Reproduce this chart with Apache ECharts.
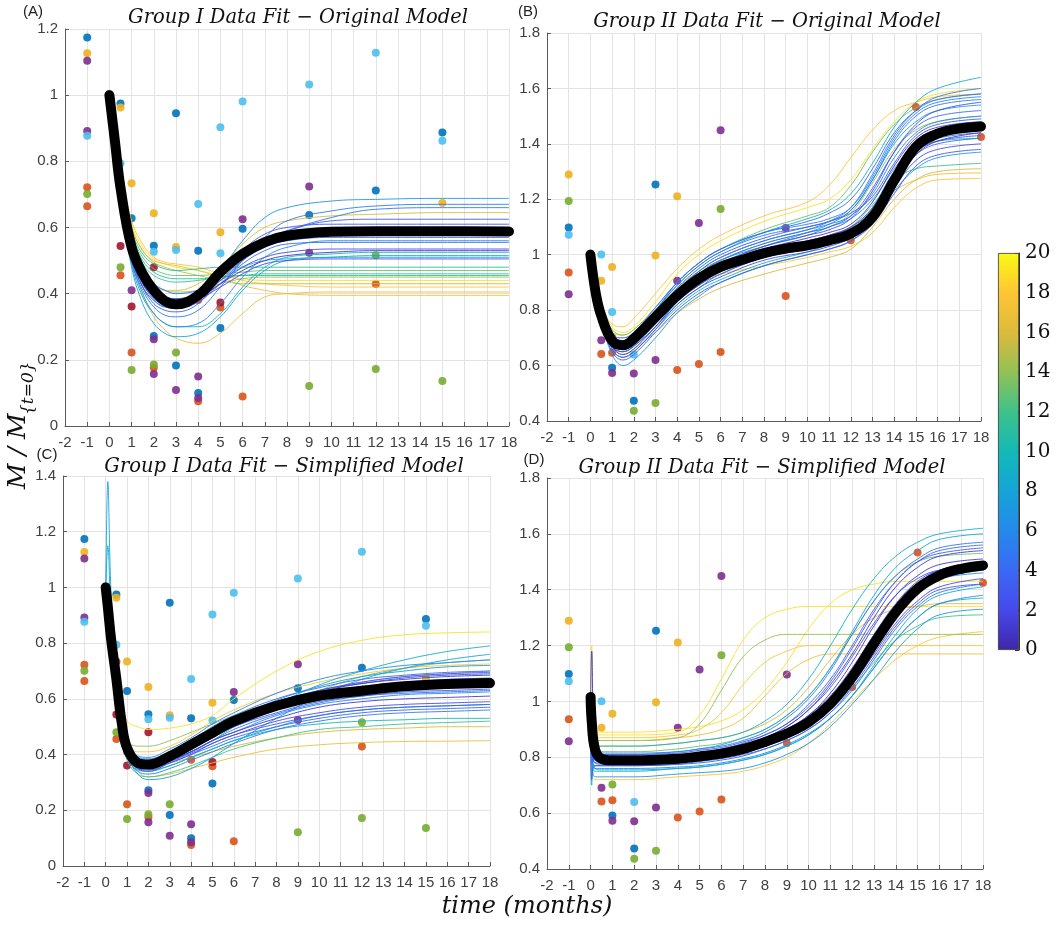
<!DOCTYPE html>
<html><head><meta charset="utf-8">
<script src="https://cdn.jsdelivr.net/npm/echarts@6/dist/echarts.min.js"></script>
<style>html,body{margin:0;padding:0;background:#fff}#c{width:1059px;height:926px}</style>
</head><body><div id="c"></div>
<script>
// ---------------- data ----------------
const PANEL_TITLES = ['Group I Data Fit \u2212 Original Model','Group II Data Fit \u2212 Original Model',
  'Group I Data Fit \u2212 Simplified Model','Group II Data Fit \u2212 Simplified Model'];
const PANEL_TAGS = ['(A)','(B)','(C)','(D)'];
const COLORBAR_MAX = 20;

// observed data, Group I (t in months, M/M0)
const G1_BLUE = [[-1,1.174],[0.5,0.975],[1,0.628],[2,0.545],[2,0.272],[3,0.945],[3,0.183],[4,0.530],[4,0.10],[5,0.296],[6,0.596],[9,0.638],[12,0.712],[15,0.887]];
const G1_ORANGE = [[-1,0.722],[-1,0.664],[0.5,0.456],[1,0.222],[2,0.176],[4,0.381],[4,0.075],[5,0.358],[6,0.089],[12,0.429]];
const G1_YELLOW = [[-1,1.127],[0.5,0.963],[1,0.734],[2,0.643],[3,0.541],[5,0.586],[15,0.674]];
const G1_PURPLE = [[-1,1.104],[-1,0.892],[0,1.003],[1,0.41],[2,0.262],[2,0.157],[3,0.109],[4,0.150],[4,0.085],[6,0.625],[9,0.724],[9,0.524]];
const G1_GREEN = [[-1,0.701],[0.5,0.48],[1,0.169],[2,0.186],[3,0.222],[9,0.121],[12,0.172],[12,0.516],[15,0.136]];
const G1_LIGHTBLUE = [[-1,0.877],[0.5,0.794],[2,0.527],[3,0.532],[4,0.671],[5,0.903],[5,0.522],[6,0.981],[9,1.032],[12,1.128],[15,0.862]];
const G1_DARKRED = [[0.5,0.733],[0.5,0.544],[1,0.361],[2,0.48],[5,0.373]];

// observed data, Group II
const G2_BLUE = [[-1,1.098],[1,0.592],[2,0.473],[3,1.253]];
const G2_ORANGE = [[-1,0.936],[0.5,0.642],[1,0.646],[4,0.584],[5,0.606],[6,0.649],[9,0.851],[12,1.052],[15,1.533],[18,1.425]];
const G2_YELLOW = [[-1,1.289],[0.5,0.906],[1,0.956],[3,0.997],[4,1.211]];
const G2_PURPLE = [[-1,0.857],[0.5,0.691],[1,0.573],[2,0.571],[3,0.620],[4,0.906],[5,1.114],[6,1.449],[9,1.096]];
const G2_GREEN = [[-1,1.194],[0,1.004],[1,0.703],[2,0.437],[3,0.465],[6,1.165]];
const G2_LIGHTBLUE = [[-1,1.072],[0.5,1.001],[1,0.793],[2,0.640]];

// Panel A: mean fit and ensemble fits
const MEAN_TIME_A = [0,0.25,0.5,1,1.5,2,2.5,3,4,5,6,7,8,10,12,15,18];
const MEAN_A = [1.0,0.86,0.72,0.54,0.46,0.41,0.378,0.368,0.395,0.465,0.52,0.556,0.575,0.587,0.589,0.589,0.588];
const FIT_TIME_A = [0,0.5,1,1.5,2,2.5,3,4,5,6,7,8,10,12,15,18];
const FIT_LEVEL_A = [18,17,19,17,16,15,13,12,14,11,11,9,7,10,8,4,3,2,5,1,6,3,2,4,5];
const FIT_A = [
 [1,0.78,0.62,0.55,0.51,0.495,0.49,0.48,0.46,0.44,0.43,0.425,0.42,0.42,0.42,0.42],
 [1,0.76,0.60,0.53,0.50,0.49,0.485,0.47,0.45,0.425,0.41,0.40,0.395,0.395,0.395,0.395],
 [1,0.77,0.61,0.54,0.505,0.49,0.48,0.47,0.455,0.445,0.44,0.44,0.44,0.44,0.44,0.44],
 [1,0.70,0.50,0.40,0.33,0.29,0.265,0.25,0.28,0.34,0.39,0.40,0.405,0.405,0.405,0.405],
 [1,0.74,0.56,0.47,0.43,0.41,0.41,0.43,0.48,0.55,0.60,0.62,0.635,0.64,0.645,0.645],
 [1,0.77,0.60,0.53,0.495,0.48,0.47,0.455,0.44,0.43,0.43,0.43,0.43,0.43,0.43,0.43],
 [1,0.75,0.58,0.51,0.475,0.46,0.455,0.455,0.46,0.465,0.47,0.47,0.47,0.47,0.47,0.47],
 [1,0.74,0.57,0.49,0.455,0.44,0.435,0.44,0.45,0.455,0.46,0.46,0.46,0.46,0.46,0.46],
 [1,0.73,0.55,0.47,0.43,0.41,0.405,0.41,0.43,0.445,0.45,0.45,0.45,0.45,0.45,0.45],
 [1,0.76,0.59,0.52,0.49,0.475,0.47,0.475,0.48,0.48,0.48,0.48,0.48,0.48,0.48,0.48],
 [1,0.75,0.58,0.50,0.465,0.45,0.445,0.445,0.45,0.455,0.455,0.455,0.455,0.455,0.455,0.455],
 [1,0.72,0.53,0.45,0.41,0.39,0.385,0.40,0.44,0.48,0.50,0.505,0.51,0.51,0.51,0.51],
 [1,0.71,0.51,0.42,0.38,0.36,0.36,0.39,0.47,0.56,0.63,0.66,0.68,0.685,0.688,0.688],
 [1,0.70,0.50,0.40,0.34,0.31,0.30,0.30,0.34,0.42,0.48,0.51,0.52,0.525,0.525,0.525],
 [1,0.69,0.48,0.37,0.31,0.28,0.27,0.28,0.33,0.41,0.47,0.50,0.51,0.515,0.515,0.515],
 [1,0.71,0.52,0.43,0.385,0.365,0.36,0.38,0.44,0.50,0.54,0.56,0.57,0.57,0.57,0.57],
 [1,0.70,0.51,0.42,0.37,0.35,0.345,0.37,0.45,0.53,0.58,0.60,0.61,0.61,0.61,0.61],
 [1,0.72,0.53,0.44,0.40,0.38,0.375,0.39,0.43,0.48,0.51,0.525,0.535,0.535,0.535,0.535],
 [1,0.70,0.50,0.41,0.36,0.335,0.33,0.35,0.42,0.50,0.56,0.59,0.63,0.655,0.66,0.66],
 [1,0.71,0.52,0.43,0.39,0.37,0.37,0.385,0.43,0.47,0.50,0.515,0.525,0.53,0.53,0.53],
 [1,0.69,0.49,0.39,0.34,0.31,0.30,0.31,0.37,0.45,0.51,0.54,0.56,0.56,0.56,0.56],
 [1,0.72,0.53,0.45,0.41,0.39,0.385,0.40,0.45,0.51,0.56,0.59,0.62,0.625,0.625,0.625],
 [1,0.71,0.52,0.44,0.40,0.38,0.375,0.385,0.42,0.46,0.49,0.50,0.505,0.505,0.505,0.505],
 [1,0.70,0.51,0.42,0.38,0.36,0.355,0.375,0.43,0.49,0.53,0.55,0.555,0.555,0.555,0.555],
 [1,0.73,0.55,0.47,0.43,0.41,0.40,0.41,0.44,0.50,0.57,0.62,0.65,0.665,0.67,0.67]
];

// Panel B
const MEAN_TIME_B = [0,0.25,0.5,1,1.5,2,3,4,5,6,7,8,9,10,11,12,13,14,15,16,17,18];
const MEAN_B = [1.0,0.86,0.78,0.69,0.673,0.697,0.775,0.853,0.914,0.956,0.982,1.006,1.022,1.034,1.052,1.076,1.136,1.268,1.389,1.437,1.455,1.463];
const FIT_TIME_B = [0,0.5,1,1.5,2,3,4,5,6,8,10,11,12,13,14,15,16,18];
const FIT_LEVEL_B = [19,18,17,16,18,13,12,14,9,10,8,7,4,3,5,2,1,6,3,2,5,4, 3,4,6,1,7,2,5,8];
const FIT_B = [
 [1,0.82,0.74,0.72,0.74,0.83,0.93,1.0,1.05,1.12,1.17,1.2,1.27,1.38,1.48,1.55,1.58,1.6],
 [1,0.8,0.71,0.7,0.72,0.79,0.86,0.9,0.93,0.96,0.99,1.01,1.03,1.08,1.17,1.24,1.27,1.275],
 [1,0.8,0.72,0.71,0.73,0.8,0.87,0.92,0.96,1.0,1.04,1.07,1.1,1.16,1.23,1.27,1.29,1.295],
 [1,0.78,0.67,0.64,0.66,0.72,0.79,0.84,0.88,0.93,0.97,0.99,1.02,1.1,1.2,1.27,1.3,1.31],
 [1,0.82,0.75,0.74,0.77,0.86,0.95,1.02,1.07,1.14,1.19,1.25,1.35,1.45,1.52,1.55,1.57,1.58],
 [1,0.81,0.73,0.71,0.73,0.81,0.9,0.97,1.02,1.09,1.14,1.17,1.25,1.37,1.47,1.53,1.56,1.58],
 [1,0.79,0.69,0.67,0.69,0.77,0.85,0.9,0.94,0.99,1.03,1.06,1.1,1.18,1.27,1.31,1.32,1.33],
 [1,0.8,0.71,0.69,0.72,0.8,0.88,0.94,0.98,1.04,1.08,1.1,1.15,1.26,1.38,1.45,1.48,1.5],
 [1,0.8,0.7,0.68,0.71,0.8,0.89,0.96,1.01,1.08,1.13,1.16,1.22,1.33,1.46,1.55,1.6,1.64],
 [1,0.78,0.66,0.63,0.65,0.73,0.81,0.87,0.91,0.97,1.01,1.04,1.08,1.17,1.3,1.38,1.41,1.42],
 [1,0.79,0.68,0.66,0.69,0.77,0.86,0.92,0.97,1.03,1.08,1.11,1.16,1.27,1.4,1.48,1.52,1.54],
 [1,0.77,0.64,0.6,0.62,0.7,0.79,0.85,0.9,0.96,1.0,1.02,1.05,1.12,1.23,1.31,1.35,1.37],
 [1,0.79,0.69,0.67,0.69,0.77,0.86,0.93,0.98,1.04,1.08,1.1,1.14,1.24,1.37,1.46,1.5,1.52],
 [1,0.78,0.67,0.65,0.67,0.75,0.83,0.89,0.93,0.99,1.02,1.04,1.07,1.14,1.27,1.37,1.41,1.43],
 [1,0.79,0.7,0.68,0.71,0.8,0.89,0.96,1.01,1.07,1.1,1.12,1.16,1.27,1.41,1.5,1.54,1.56],
 [1,0.78,0.66,0.63,0.65,0.73,0.82,0.88,0.92,0.98,1.01,1.03,1.06,1.12,1.24,1.34,1.38,1.4],
 [1,0.79,0.68,0.66,0.68,0.76,0.85,0.91,0.96,1.02,1.06,1.08,1.11,1.19,1.32,1.42,1.46,1.48],
 [1,0.8,0.7,0.69,0.71,0.79,0.87,0.94,0.99,1.05,1.09,1.11,1.14,1.22,1.35,1.44,1.48,1.5],
 [1,0.77,0.65,0.62,0.64,0.72,0.8,0.86,0.9,0.96,1.0,1.02,1.05,1.11,1.22,1.32,1.36,1.38],
 [1,0.79,0.69,0.68,0.7,0.78,0.87,0.93,0.97,1.03,1.07,1.09,1.13,1.23,1.37,1.47,1.52,1.55],
 [1,0.78,0.67,0.65,0.67,0.74,0.83,0.9,0.95,1.01,1.05,1.07,1.1,1.16,1.28,1.38,1.42,1.44],
 [1,0.8,0.71,0.7,0.72,0.81,0.9,0.97,1.02,1.08,1.12,1.15,1.2,1.31,1.44,1.52,1.56,1.58],
 [1,0.79,0.7,0.69,0.71,0.79,0.88,0.95,1.0,1.06,1.1,1.12,1.15,1.21,1.33,1.43,1.47,1.49],
 [1,0.78,0.68,0.66,0.68,0.76,0.84,0.9,0.95,1.0,1.04,1.06,1.09,1.15,1.26,1.36,1.4,1.42],
 [1,0.8,0.71,0.69,0.72,0.8,0.9,0.97,1.02,1.08,1.11,1.13,1.17,1.28,1.42,1.51,1.55,1.57],
 [1,0.78,0.67,0.64,0.66,0.74,0.83,0.89,0.94,1.0,1.03,1.05,1.08,1.13,1.25,1.36,1.41,1.44],
 [1,0.79,0.69,0.67,0.7,0.78,0.87,0.93,0.98,1.03,1.07,1.1,1.13,1.2,1.31,1.4,1.45,1.47],
 [1,0.79,0.68,0.66,0.68,0.76,0.84,0.91,0.96,1.02,1.05,1.07,1.1,1.17,1.3,1.41,1.45,1.46],
 [1,0.8,0.7,0.68,0.7,0.78,0.87,0.94,0.99,1.05,1.09,1.12,1.17,1.29,1.43,1.52,1.57,1.6],
 [1,0.78,0.67,0.65,0.67,0.74,0.82,0.88,0.93,0.99,1.02,1.04,1.08,1.15,1.29,1.39,1.43,1.45]
];

// Panel C
const MEAN_TIME_C = [0,0.1,0.25,0.5,0.75,1,1.5,2,3,4,5,6,8,10,12,14,16,18];
const MEAN_C = [1.0,0.93,0.816,0.671,0.514,0.424,0.37,0.364,0.394,0.436,0.478,0.52,0.575,0.611,0.629,0.645,0.653,0.657];
const FIT_TIME_C = MEAN_TIME_C;
const FIT_LEVEL_C = [19,17,18,16,13,12,14,8,9,10,7,3,2,4,5,6,1,1,2,3,5, 2,4,3,6,1,5,7,8];
const FIT_C = [
 [1,0.95,0.88,0.75,0.6,0.52,0.5,0.49,0.495,0.51,0.54,0.6,0.7,0.77,0.81,0.83,0.837,0.84],
 [1,0.92,0.8,0.63,0.48,0.4,0.34,0.32,0.33,0.35,0.37,0.39,0.42,0.435,0.443,0.447,0.448,0.45],
 [1,0.93,0.82,0.66,0.52,0.44,0.41,0.41,0.43,0.47,0.52,0.56,0.62,0.66,0.69,0.71,0.72,0.725],
 [1,0.93,0.82,0.66,0.5,0.42,0.37,0.36,0.37,0.39,0.41,0.43,0.46,0.48,0.49,0.495,0.5,0.5],
 [1,0.93,0.82,0.65,0.5,0.42,0.38,0.375,0.39,0.42,0.46,0.5,0.57,0.63,0.68,0.71,0.73,0.74],
 [1,0.92,0.8,0.62,0.46,0.38,0.33,0.32,0.335,0.36,0.39,0.42,0.46,0.49,0.5,0.51,0.515,0.52],
 [1,0.93,0.83,0.67,0.53,0.45,0.43,0.43,0.45,0.48,0.51,0.54,0.59,0.63,0.66,0.68,0.69,0.7],
 [0.95,1.38,0.98,0.7,0.5,0.4,0.33,0.31,0.32,0.35,0.39,0.44,0.53,0.61,0.67,0.71,0.74,0.76],
 [0.98,1.15,0.9,0.68,0.52,0.43,0.37,0.36,0.38,0.41,0.45,0.5,0.58,0.65,0.7,0.74,0.77,0.79],
 [1,0.92,0.8,0.63,0.48,0.4,0.35,0.345,0.36,0.39,0.42,0.45,0.49,0.51,0.52,0.525,0.53,0.53],
 [1,0.93,0.81,0.66,0.5,0.42,0.38,0.375,0.4,0.44,0.48,0.52,0.58,0.62,0.645,0.66,0.67,0.675],
 [1,0.93,0.81,0.66,0.5,0.41,0.36,0.355,0.385,0.42,0.46,0.5,0.55,0.59,0.61,0.625,0.63,0.635],
 [1,0.92,0.8,0.65,0.49,0.4,0.35,0.34,0.37,0.4,0.44,0.47,0.52,0.55,0.57,0.58,0.585,0.59],
 [1,0.93,0.82,0.67,0.52,0.43,0.385,0.38,0.41,0.45,0.5,0.54,0.6,0.64,0.67,0.685,0.695,0.7],
 [1,0.92,0.8,0.64,0.48,0.39,0.34,0.33,0.35,0.38,0.41,0.44,0.49,0.52,0.54,0.55,0.555,0.56],
 [1,0.93,0.82,0.67,0.52,0.44,0.395,0.39,0.42,0.46,0.51,0.55,0.62,0.67,0.7,0.72,0.73,0.74],
 [1,0.93,0.81,0.66,0.51,0.42,0.37,0.365,0.39,0.43,0.47,0.51,0.57,0.61,0.64,0.655,0.665,0.67],
 [1,0.92,0.81,0.65,0.5,0.41,0.36,0.35,0.38,0.41,0.45,0.48,0.53,0.57,0.59,0.6,0.605,0.61],
 [1,0.93,0.82,0.66,0.51,0.425,0.375,0.37,0.4,0.44,0.48,0.52,0.58,0.63,0.655,0.675,0.685,0.69],
 [1,0.92,0.8,0.64,0.49,0.4,0.355,0.35,0.375,0.405,0.44,0.47,0.51,0.54,0.56,0.57,0.575,0.58],
 [1,0.93,0.81,0.66,0.51,0.42,0.38,0.37,0.395,0.43,0.47,0.5,0.56,0.6,0.625,0.64,0.645,0.65],
 [1,0.93,0.81,0.65,0.5,0.41,0.365,0.36,0.385,0.425,0.465,0.5,0.56,0.6,0.62,0.635,0.64,0.645],
 [1,0.92,0.8,0.64,0.49,0.4,0.35,0.345,0.37,0.4,0.43,0.46,0.5,0.53,0.55,0.56,0.565,0.57],
 [1,0.93,0.82,0.67,0.52,0.43,0.38,0.375,0.405,0.445,0.49,0.53,0.59,0.63,0.66,0.68,0.69,0.695],
 [1,0.92,0.8,0.64,0.49,0.4,0.355,0.35,0.375,0.41,0.45,0.48,0.54,0.58,0.6,0.615,0.62,0.625],
 [1,0.93,0.81,0.66,0.51,0.42,0.375,0.37,0.4,0.44,0.48,0.52,0.58,0.625,0.655,0.67,0.68,0.685],
 [1,0.92,0.81,0.65,0.5,0.41,0.36,0.355,0.38,0.41,0.45,0.49,0.545,0.585,0.61,0.62,0.625,0.63],
 [1,0.93,0.82,0.67,0.52,0.44,0.39,0.385,0.41,0.45,0.49,0.53,0.595,0.645,0.68,0.7,0.715,0.72],
 [1,0.92,0.8,0.63,0.48,0.39,0.345,0.34,0.36,0.39,0.42,0.45,0.5,0.54,0.56,0.57,0.575,0.58]
];

// Panel D
const MEAN_TIME_D = [0,0.05,0.2,0.5,1,2,4,5,6,7,8,9,10,11,12,13,14,15,16,17,18];
const MEAN_D = [1.016,0.93,0.83,0.795,0.789,0.789,0.795,0.803,0.813,0.83,0.855,0.885,0.926,0.992,1.087,1.207,1.32,1.404,1.451,1.475,1.487];
const FIT_TIME_D = [0,0.05,0.2,0.5,1,2,4,5,6,7,8,9,10,11,12,13,14,15,16,18];
const FIT_LEVEL_D = [19,18,17,18,19,16,14,13,12,9,10,8,7,1,3,4,2,5,6,2,3, 2,4,3,5,1,6,3,8];
const FIT_D = [
 [1,1.2,0.88,0.88,0.88,0.88,0.89,0.95,1.08,1.22,1.3,1.33,1.34,1.34,1.34,1.34,1.34,1.34,1.34,1.34],
 [1,0.9,0.87,0.87,0.87,0.87,0.88,0.9,0.96,1.06,1.14,1.18,1.2,1.2,1.2,1.2,1.2,1.2,1.2,1.2],
 [1,0.85,0.86,0.86,0.86,0.86,0.87,0.88,0.9,0.94,1.02,1.1,1.15,1.17,1.17,1.17,1.17,1.17,1.17,1.17],
 [1,0.75,0.72,0.72,0.72,0.72,0.73,0.735,0.74,0.75,0.77,0.8,0.85,0.92,1.0,1.08,1.15,1.2,1.23,1.25],
 [1,0.9,0.89,0.89,0.89,0.89,0.9,0.91,0.93,0.97,1.04,1.14,1.26,1.35,1.4,1.42,1.43,1.43,1.43,1.43],
 [1,0.85,0.84,0.84,0.84,0.84,0.85,0.86,0.87,0.89,0.92,0.97,1.05,1.15,1.24,1.3,1.33,1.34,1.35,1.35],
 [1,0.88,0.86,0.86,0.86,0.86,0.87,0.92,1.04,1.16,1.22,1.24,1.24,1.24,1.24,1.24,1.24,1.24,1.24,1.24],
 [1,0.8,0.82,0.82,0.82,0.82,0.83,0.84,0.85,0.87,0.9,0.95,1.02,1.12,1.24,1.36,1.45,1.5,1.52,1.53],
 [1,0.78,0.77,0.77,0.77,0.77,0.78,0.79,0.8,0.82,0.84,0.87,0.91,0.97,1.05,1.14,1.22,1.27,1.3,1.31],
 [1,0.7,0.83,0.84,0.84,0.84,0.85,0.86,0.87,0.89,0.93,0.99,1.08,1.2,1.33,1.44,1.52,1.57,1.6,1.62],
 [1,0.8,0.75,0.75,0.75,0.75,0.76,0.765,0.775,0.79,0.81,0.84,0.88,0.94,1.02,1.12,1.22,1.3,1.35,1.37],
 [1,0.85,0.81,0.81,0.81,0.81,0.82,0.83,0.845,0.87,0.9,0.95,1.02,1.12,1.25,1.38,1.48,1.54,1.58,1.6],
 [1,0.82,0.73,0.73,0.73,0.73,0.74,0.745,0.75,0.76,0.78,0.81,0.85,0.91,0.99,1.08,1.18,1.26,1.31,1.33],
 [1,1.18,0.8,0.79,0.79,0.79,0.795,0.805,0.815,0.835,0.86,0.9,0.95,1.03,1.14,1.27,1.38,1.45,1.49,1.51],
 [1,0.72,0.77,0.77,0.77,0.77,0.775,0.78,0.79,0.805,0.83,0.86,0.9,0.96,1.05,1.16,1.27,1.35,1.4,1.42],
 [1,0.9,0.81,0.8,0.8,0.8,0.805,0.815,0.83,0.85,0.88,0.92,0.99,1.08,1.2,1.33,1.43,1.5,1.54,1.56],
 [1,0.85,0.78,0.78,0.78,0.78,0.785,0.79,0.8,0.815,0.84,0.87,0.91,0.97,1.06,1.17,1.28,1.36,1.41,1.44],
 [1,0.95,0.82,0.815,0.815,0.815,0.82,0.83,0.84,0.86,0.89,0.94,1.01,1.11,1.24,1.36,1.45,1.51,1.55,1.57],
 [1,0.8,0.76,0.76,0.76,0.76,0.765,0.77,0.78,0.795,0.815,0.845,0.885,0.94,1.02,1.12,1.22,1.3,1.35,1.38],
 [1,0.88,0.79,0.785,0.785,0.785,0.79,0.8,0.81,0.83,0.855,0.89,0.94,1.01,1.11,1.23,1.34,1.42,1.46,1.48],
 [1,0.83,0.8,0.8,0.8,0.8,0.805,0.81,0.82,0.84,0.87,0.91,0.97,1.05,1.16,1.28,1.38,1.44,1.47,1.48],
 [1,0.86,0.8,0.795,0.795,0.795,0.8,0.81,0.82,0.84,0.865,0.9,0.95,1.02,1.12,1.24,1.35,1.43,1.47,1.5],
 [1,0.84,0.79,0.785,0.785,0.785,0.79,0.8,0.81,0.825,0.85,0.88,0.925,0.99,1.08,1.2,1.31,1.39,1.44,1.47],
 [1,0.9,0.82,0.81,0.81,0.81,0.815,0.825,0.835,0.855,0.88,0.92,0.98,1.07,1.19,1.32,1.43,1.5,1.53,1.55],
 [1,0.8,0.77,0.77,0.77,0.77,0.775,0.785,0.795,0.81,0.83,0.86,0.9,0.96,1.04,1.15,1.26,1.34,1.39,1.42],
 [1,0.87,0.8,0.8,0.8,0.8,0.805,0.815,0.825,0.845,0.87,0.91,0.97,1.06,1.17,1.3,1.41,1.48,1.52,1.54],
 [1,0.83,0.78,0.775,0.775,0.775,0.78,0.79,0.8,0.815,0.84,0.87,0.92,0.99,1.09,1.21,1.32,1.4,1.44,1.46],
 [1,0.85,0.79,0.79,0.79,0.79,0.795,0.8,0.81,0.83,0.85,0.88,0.93,1.0,1.1,1.22,1.34,1.42,1.47,1.5],
 [1,0.82,0.76,0.755,0.755,0.755,0.76,0.765,0.775,0.79,0.81,0.84,0.88,0.94,1.02,1.13,1.24,1.33,1.38,1.41]
];

// ---------------- styling / build ----------------
const PARULA = [[0,'#3E26A8'],[0.1,'#4749EB'],[0.2,'#3A69F5'],[0.3,'#2589EC'],[0.4,'#14A4D8'],
  [0.5,'#13B9B6'],[0.6,'#3DC28A'],[0.7,'#92C155'],[0.8,'#DDBA3B'],[0.9,'#FEC535'],[1,'#F9FB14']];
function hex2rgb(h){return [1,3,5].map(i=>parseInt(h.substr(i,2),16));}
function parula(f){
  f=Math.max(0,Math.min(1,f));
  for(let i=1;i<PARULA.length;i++){
    if(f<=PARULA[i][0]){
      const a=PARULA[i-1],b=PARULA[i],u=(f-a[0])/(b[0]-a[0]);
      const c1=hex2rgb(a[1]),c2=hex2rgb(b[1]);
      return 'rgb('+c1.map((v,k)=>Math.round(v+(c2[k]-v)*u)).join(',')+')';
    }
  }
  return PARULA[PARULA.length-1][1];
}
const MCOL = {blue:'#0072BD',orange:'#D95319',yellow:'#EDB120',purple:'#7E2F8E',green:'#77AC30',lightblue:'#4DBEEE',darkred:'#A2142F'};
const GROUP1 = [[G1_BLUE,'blue'],[G1_ORANGE,'orange'],[G1_YELLOW,'yellow'],[G1_PURPLE,'purple'],[G1_GREEN,'green'],[G1_LIGHTBLUE,'lightblue'],[G1_DARKRED,'darkred']];
const GROUP2 = [[G2_BLUE,'blue'],[G2_ORANGE,'orange'],[G2_YELLOW,'yellow'],[G2_PURPLE,'purple'],[G2_GREEN,'green'],[G2_LIGHTBLUE,'lightblue']];

const GRIDS = [
  {left:65, top:29, width:444, height:397},
  {left:547, top:33, width:434, height:388},
  {left:63, top:476, width:427, height:390},
  {left:547, top:478, width:436, height:391},
  {left:998, top:253, width:21, height:397}
];
const YR = [[0,1.2],[0.4,1.8],[0,1.4],[0.4,1.8]];
const TICKFONT = {color:'#404040', fontSize:15, fontFamily:'Liberation Sans, Arial, sans-serif'};
const AXLINE = {show:true, onZero:false, lineStyle:{color:'#5a5a5a', width:1}};

const xAxes=[], yAxes=[], series=[];
for(let p=0;p<4;p++){
  xAxes.push({gridIndex:p, type:'value', min:-2, max:18, interval:1,
    axisLine:AXLINE, axisTick:{show:true, inside:true, length:4, lineStyle:{color:'#5a5a5a'}},
    axisLabel:Object.assign({margin:9}, TICKFONT),
    splitLine:{show:true, lineStyle:{color:'#e3e3e3', width:1}}});
  yAxes.push({gridIndex:p, type:'value', min:YR[p][0], max:YR[p][1], interval:0.2,
    axisLine:AXLINE, axisTick:{show:true, inside:true, length:4, lineStyle:{color:'#5a5a5a'}},
    axisLabel:Object.assign({margin:7}, TICKFONT),
    splitLine:{show:true, lineStyle:{color:'#e3e3e3', width:1}}});
}
xAxes.push({gridIndex:4, type:'category', data:[''], show:false});
yAxes.push({gridIndex:4, type:'value', min:0, max:COLORBAR_MAX, interval:2, position:'right',
  axisLine:{show:true, onZero:false, lineStyle:{color:'#333', width:1}},
  axisTick:{show:true, inside:true, length:4, lineStyle:{color:'#333'}},
  axisLabel:{color:'#111', fontSize:20, fontFamily:'DejaVu Serif, serif', margin:6},
  splitLine:{show:false}});

function addScatter(p, group){
  group.forEach(([pts,col])=>{
    series.push({type:'scatter', xAxisIndex:p, yAxisIndex:p, data:pts, symbolSize:8,
      itemStyle:{color:MCOL[col], opacity:0.9}, z:2, silent:true, animation:false});
  });
}
function addFits(p, times, rows, levels){
  const order = levels.map((l,i)=>i).sort((a,b)=>levels[b]-levels[a]);
  order.forEach(i=>{
    series.push({type:'line', xAxisIndex:p, yAxisIndex:p, data:times.map((t,k)=>[t,rows[i][k]]),
      smooth:0.4, showSymbol:false, silent:true, z:3, animation:false,
      lineStyle:{width:0.9, color:parula(levels[i]/COLORBAR_MAX)}});
  });
}
function addMean(p, times, vals){
  series.push({type:'line', xAxisIndex:p, yAxisIndex:p, data:times.map((t,k)=>[t,vals[k]]),
    smooth:0.4, showSymbol:false, silent:true, z:4, animation:false,
    lineStyle:{width:10, color:'#000', cap:'round', join:'round'}});
}
addScatter(0, GROUP1); addFits(0, FIT_TIME_A, FIT_A, FIT_LEVEL_A); addMean(0, MEAN_TIME_A, MEAN_A);
addScatter(1, GROUP2); addFits(1, FIT_TIME_B, FIT_B, FIT_LEVEL_B); addMean(1, MEAN_TIME_B, MEAN_B);
addScatter(2, GROUP1); addFits(2, FIT_TIME_C, FIT_C, FIT_LEVEL_C); addMean(2, MEAN_TIME_C, MEAN_C);
addScatter(3, GROUP2); addFits(3, FIT_TIME_D, FIT_D, FIT_LEVEL_D); addMean(3, MEAN_TIME_D, MEAN_D);

// colorbar
series.push({type:'bar', xAxisIndex:4, yAxisIndex:4, data:[COLORBAR_MAX], barWidth:'100%', silent:true, animation:false,
  itemStyle:{borderColor:'#333', borderWidth:0.8,
    color:{type:'linear', x:0, y:1, x2:0, y2:0, colorStops:PARULA.map(([o,c])=>({offset:o,color:c}))}}});

const TITLE_POS = [[298,18],[767,22],[284,467],[762,468]];
const TAG_POS = [[33,12],[528,12],[47,455],[534,460]];
const SERIF_IT = 'italic 19.5px "DejaVu Serif", serif';
const graphic = [];
for(let p=0;p<4;p++){
  graphic.push({type:'text', x:TITLE_POS[p][0], y:TITLE_POS[p][1], silent:true,
    style:{text:PANEL_TITLES[p], font:SERIF_IT, fill:'#111', align:'center', verticalAlign:'middle'}});
  graphic.push({type:'text', x:TAG_POS[p][0], y:TAG_POS[p][1], silent:true,
    style:{text:PANEL_TAGS[p], font:'15px "Liberation Sans", Arial, sans-serif', fill:'#222', align:'center', verticalAlign:'middle'}});
}
graphic.push({type:'text', x:527, y:907, silent:true,
  style:{text:'time (months)', font:'italic 24px "DejaVu Serif", serif', fill:'#111', align:'center', verticalAlign:'middle'}});
graphic.push({type:'group', x:31, y:489, rotation:Math.PI/2, silent:true, children:[
  {type:'text', x:0, y:0, style:{text:'M / M', font:'italic 25px "DejaVu Serif", serif', fill:'#111', align:'left', verticalAlign:'bottom'}},
  {type:'text', x:74, y:6, style:{text:'{t=0}', font:'italic 17px "DejaVu Serif", serif', fill:'#111', align:'left', verticalAlign:'bottom'}}
]});

const chart = echarts.init(document.getElementById('c'), null, {renderer:'canvas'});
chart.setOption({animation:false, backgroundColor:'#fff', grid:GRIDS, xAxis:xAxes, yAxis:yAxes, series:series, graphic:graphic});
</script></body></html>
